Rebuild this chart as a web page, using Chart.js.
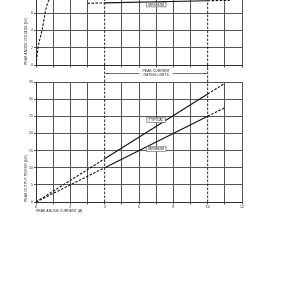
<!DOCTYPE html>
<html>
<head>
<meta charset="utf-8">
<script src="https://cdn.jsdelivr.net/npm/chart.js@4"></script>
<style>
  html, body { margin: 0; padding: 0; background: #fff; overflow: hidden; }
  #wrap { position: relative; width: 300px; height: 300px; overflow: hidden; }
  #topChart { position: absolute; left: 0; top: -20px; }
  #bottomChart { position: absolute; left: 0; top: 0; }
</style>
</head>
<body>
<div id="wrap">
  <canvas id="topChart" width="300" height="100"></canvas>
  <canvas id="bottomChart" width="300" height="300"></canvas>
</div>
<script>
// peak anode current (A) on both charts
const currentMin = 0;
const currentMax = 12;
const ratingLimits = [4, 10];

// upper chart: peak anode voltage (kV)
const voltageMax = 8;
const riseCurrent = [0, 0.12, 0.35, 0.53, 0.68, 0.85, 1.0];
const riseVoltage = [0, 2, 4, 6, 7.2, 7.7, 8];
const minVoltCurrent = [3, 4, 10, 11.3];
const minVoltage = [7.15, 7.2, 7.45, 7.5];

// lower chart: peak output power (kW)
const powerMax = 35;
const powerCurrent = [0, 4, 10, 11];
const powerTypical = [0, 12.6, 31.5, 34.6];
const powerMinimum = [0, 10, 25, 27.5];

Chart.defaults.font.family = "'Liberation Sans', Arial, sans-serif";
Chart.defaults.font.size = 3.5;
Chart.defaults.color = "#2a2a2a";

const ink = "#111";
const gridGrey = "#555";
const gridColor = (ctx) =>
  ctx.tick && ratingLimits.includes(ctx.tick.value) ? "rgba(0,0,0,0)" : gridGrey;

function pts(xs, ys) {
  return xs.map((x, i) => ({ x: x, y: ys[i] }));
}

// solid only inside the rating limits, dashed outside
const limitDash = {
  borderDash: (ctx) =>
    ctx.p0.parsed.x < ratingLimits[0] || ctx.p0.parsed.x >= ratingLimits[1] ? [2.5, 1.5] : undefined,
};

function limitLines(top) {
  return ratingLimits.map((v) => ({
    data: [{ x: v, y: 0 }, { x: v, y: top }],
    borderColor: ink,
    borderWidth: 0.9,
    borderDash: [2.5, 1.5],
    pointRadius: 0,
    clip: false,
  }));
}

// boxed tags like MINIMUM / TYPICAL
const tagPlugin = {
  id: "tags",
  afterDatasetsDraw(chart, args, opts) {
    const c = chart.ctx;
    const xs = chart.scales.x, ys = chart.scales.y;
    c.save();
    c.font = "3.5px 'Liberation Sans', Arial, sans-serif";
    c.textAlign = "center";
    c.textBaseline = "middle";
    (opts.items || []).forEach((t) => {
      const px = xs.getPixelForValue(t.x), py = ys.getPixelForValue(t.y);
      const w = c.measureText(t.text).width + 4, h = 4.5;
      c.fillStyle = "#fff";
      c.fillRect(px - w / 2, py - h / 2, w, h);
      c.strokeStyle = "#666";
      c.lineWidth = 0.7;
      c.strokeRect(px - w / 2, py - h / 2, w, h);
      c.fillStyle = "#2a2a2a";
      c.fillText(t.text, px, py + 0.2);
    });
    c.restore();
  },
};

// "PEAK CURRENT RATING LIMITS" dimension between the charts
const limitPlugin = {
  id: "limitNote",
  afterDatasetsDraw(chart, args, opts) {
    if (!opts.text) return;
    const c = chart.ctx;
    const xs = chart.scales.x;
    const x0 = xs.getPixelForValue(ratingLimits[0]);
    const x1 = xs.getPixelForValue(ratingLimits[1]);
    const y = chart.chartArea.top - 8.5;
    const mid = (x0 + x1) / 2;
    c.save();
    c.font = "3.5px 'Liberation Sans', Arial, sans-serif";
    const gap = Math.max(...opts.text.map((s) => c.measureText(s).width)) / 2 + 3;
    c.strokeStyle = "#333";
    c.lineWidth = 0.7;
    c.beginPath();
    c.moveTo(x0 + 1, y); c.lineTo(mid - gap, y);
    c.moveTo(mid + gap, y); c.lineTo(x1 - 1, y);
    c.stroke();
    c.fillStyle = "#333";
    [[x0 + 1, 1], [x1 - 1, -1]].forEach(([ax, d]) => {
      c.beginPath();
      c.moveTo(ax, y);
      c.lineTo(ax + 2.5 * d, y - 0.8);
      c.lineTo(ax + 2.5 * d, y + 0.8);
      c.closePath();
      c.fill();
    });
    c.fillStyle = "#2a2a2a";
    c.textAlign = "center";
    c.textBaseline = "middle";
    c.fillText(opts.text[0], mid, y - 2);
    c.fillText(opts.text[1], mid, y + 2);
    c.restore();
  },
};

function xAxis(showLabels, height) {
  return {
    type: "linear",
    min: currentMin,
    max: currentMax,
    ticks: {
      display: showLabels,
      stepSize: 1,
      autoSkip: false,
      maxRotation: 0,
      padding: 0.5,
      callback: (v) => (v % 2 === 0 ? v : ""),
    },
    grid: { color: gridColor, lineWidth: 1, tickLength: 2.5, tickColor: gridGrey },
    border: { color: "#333", width: 1 },
    title: {
      display: showLabels,
      text: "PEAK ANODE CURRENT (A)",
      align: "start",
      padding: { top: 0, bottom: 0.5 },
    },
    afterFit: (s) => { s.height = height; },
  };
}

function yAxis(max, step, text) {
  return {
    min: 0,
    max: max,
    ticks: { stepSize: step, padding: 1 },
    grid: { color: gridGrey, lineWidth: 1, tickLength: 2, tickColor: gridGrey },
    border: { color: "#333", width: 1 },
    title: { display: true, text: text, align: "start", padding: { top: 23.5, bottom: 0 } },
    afterFit: (s) => { s.width = 36; },
  };
}

const common = {
  responsive: false,
  animation: false,
  devicePixelRatio: 1,
  plugins: { legend: { display: false }, tooltip: { enabled: false } },
};

new Chart(document.getElementById("topChart"), {
  type: "line",
  data: {
    datasets: [
      {
        data: pts(riseCurrent, riseVoltage),
        borderColor: ink,
        borderWidth: 1.1,
        borderDash: [2.5, 1.5],
        cubicInterpolationMode: "monotone",
        pointRadius: 0,
      },
      {
        data: pts(minVoltCurrent, minVoltage),
        borderColor: ink,
        borderWidth: 1.1,
        segment: limitDash,
        pointRadius: 0,
      },
      ...limitLines(voltageMax),
    ],
  },
  options: {
    ...common,
    layout: { padding: { top: 16, right: 58, left: 0, bottom: 0 } },
    scales: {
      x: xAxis(false, 15),
      y: yAxis(voltageMax, 2, "PEAK ANODE VOLTAGE (kV)"),
    },
    plugins: {
      ...common.plugins,
      tags: { items: [{ text: "MINIMUM", x: 7, y: 7.0 }] },
    },
  },
  plugins: [tagPlugin],
});

new Chart(document.getElementById("bottomChart"), {
  type: "line",
  data: {
    datasets: [
      {
        data: pts(powerCurrent, powerTypical),
        borderColor: ink,
        borderWidth: 1.1,
        segment: limitDash,
        pointRadius: 0,
        clip: false,
      },
      {
        data: pts(powerCurrent, powerMinimum),
        borderColor: ink,
        borderWidth: 1.1,
        segment: limitDash,
        pointRadius: 0,
      },
      ...limitLines(40),
    ],
  },
  options: {
    ...common,
    layout: { padding: { top: 82, right: 58, left: 0, bottom: 86 } },
    scales: {
      x: xAxis(true, 12),
      y: yAxis(powerMax, 5, "PEAK OUTPUT POWER (kW)"),
    },
    plugins: {
      ...common.plugins,
      tags: {
        items: [
          { text: "TYPICAL", x: 7, y: 23.9 },
          { text: "MINIMUM", x: 7, y: 15.45 },
        ],
      },
      limitNote: { text: ["PEAK CURRENT", "RATING LIMITS"] },
    },
  },
  plugins: [tagPlugin, limitPlugin],
});
</script>
</body>
</html>
